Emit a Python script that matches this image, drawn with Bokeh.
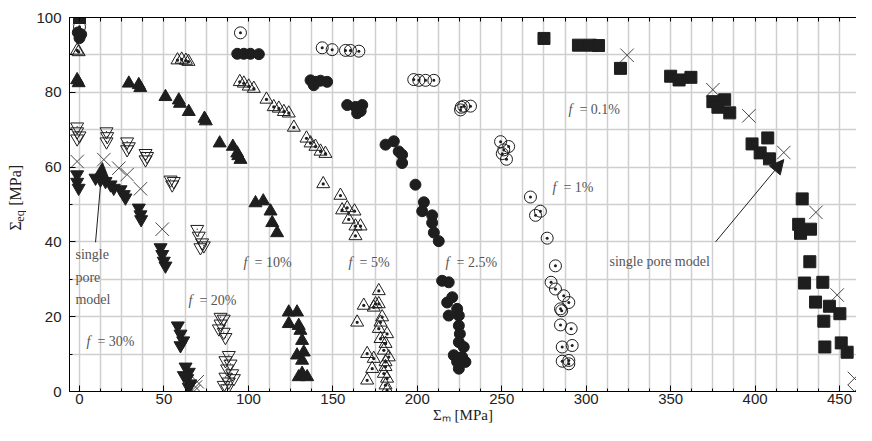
import math
from bokeh.plotting import figure
from bokeh.layouts import row
from bokeh.models import Range1d, FixedTicker, Arrow, NormalHead, LinearAxis
from bokeh.core.properties import value
from bokeh.embed import file_html
from bokeh.resources import INLINE

# ---------------- data (Sigma_m, Sigma_eq) in MPa ----------------
# f = 0.1 %  (filled squares)
sq_x = [0, 275, 295.4, 302.5, 307.3, 320.3, 350, 355, 362, 375, 382, 378, 385,
        398.2, 407.5, 403, 408.5, 427.9, 425.8, 432.8, 426.9, 432.4, 429.3, 440.1,
        435.8, 444, 450.2, 440.7, 441.3, 451, 454.5]
sq_y = [100, 94.4, 92.6, 92.6, 92.5, 86.4, 84.3, 83.3, 84, 77.5, 78, 76, 74.5,
        66.2, 67.8, 63.8, 62.2, 51.5, 44.7, 43.4, 42.3, 34.7, 29, 29.2,
        23.9, 22.8, 20.8, 18.8, 11.9, 13, 10.5]
# f = 1 %  (open circles)
oc_x = [0, 95.3, 143.7, 149.6, 157.5, 160.4, 165.4, 197.9, 200.9, 204.9, 209.8,
        225.6, 227.5, 231.5, 226, 249.3, 254.1, 251.2, 250.3, 252.8, 267, 272.9,
        270, 276.9, 281.8, 279.2, 281.8, 286.7, 289.7, 284.8, 285.5, 284.8, 291.1,
        285.8, 291.7, 285.8, 289.7, 289.7]
oc_y = [97.5, 95.9, 91.9, 91.4, 91.2, 91.2, 91, 83.4, 83.2, 83.2, 83.2,
        75.3, 76.3, 76.3, 76, 66.8, 65.5, 64.6, 63.6, 62.1, 52, 48.2,
        47.1, 41, 33.6, 29.2, 27.4, 25.6, 23.8, 22.1, 21.6, 17.8, 16.8,
        11.9, 12.3, 8.1, 8.3, 7.4]
# f = 2.5 %  (filled circles)
fc_x = [-1, 0, 1, 93.4, 97.3, 101.2, 106.2, 136.8, 139.7, 142.7, 146.6, 138.7,
        158.5, 163.4, 167.4, 164.4, 166.5, 181.2, 186.1, 189, 191, 191, 198.9,
        203.9, 202.9, 208.8, 208.8, 209.8, 212.7, 214.7, 218.6, 220.7, 217.7,
        223.6, 218.6, 224.6, 224.6, 225.2, 224.6, 227.5, 221.6, 228.5, 224.6,
        226.6, 223.6]
fc_y = [96, 94.5, 95.5, 90.3, 90.3, 90.3, 90.2, 83.2, 82.8, 83.1, 82.8, 81.9,
        76.6, 76.1, 76.6, 74.4, 75, 66, 66.9, 64.2, 63.3, 61.1, 55.3,
        50.6, 48.2, 47.1, 45.1, 42.5, 40.2, 29.6, 29.2, 25.2, 23.8,
        22.1, 20.3, 20.3, 17.6, 15.4, 13.2, 11.9, 9.7, 7.9, 6.1,
        9.2, 7.9]
# f = 5 %  (open triangles)
ot_x = [-1.4, -0.5, 58, 60.5, 63, 64.5, 94.9, 97.3, 100.2, 103.2, 110.7, 115,
        118, 121, 123.9, 126.9, 134.4, 136.8, 139.7, 142.7, 145.6, 144.3, 154.5,
        155.5, 158.5, 162.8, 159.4, 163.4, 166.4, 163.4, 177.2, 168.3, 175.3,
        177.2, 174.2, 164.4, 179.2, 178.2, 177.2, 182.1, 178.2, 181.2, 170.3,
        174.2, 180.2, 183.1, 173.3, 181.2, 181.2, 180.2, 170.3, 182.1, 181.2,
        182.1]
ot_y = [91.2, 90.8, 88.6, 88.8, 88.5, 88.2, 82.8, 82.4, 81.6, 81, 78.1, 76.1,
        75.7, 74.8, 74.4, 70.6, 67.7, 66.4, 65.5, 64.2, 63.6, 55.5, 52.4,
        48.5, 49.1, 48.2, 46, 44.2, 44.2, 41.6, 26.9, 23, 23.4,
        23.4, 22.5, 18.5, 19.9, 18.5, 16.8, 15.4, 14.1, 12.8, 10.1,
        8.8, 11, 9.2, 6.1, 7.9, 6.6, 4.8, 3, 3.5, 1.7,
        0.3]
# f = 10 %  (filled triangles)
ft_x = [-1.4, -0.5, 29.2, 35.1, 36, 50.9, 58.8, 59.5, 64.7, 74, 74.8, 83,
        90.8, 93.4, 95.3, 94, 104.2, 108.8, 113.1, 114.1, 117, 123.9, 128.8,
        123.9, 129.8, 130.8, 131.8, 128.8, 132.8, 131.8, 131.8, 134.8, 129.8]
ft_y = [83.3, 82.5, 82.4, 82, 81.2, 78.8, 77.9, 77, 74.8, 73, 72.3, 66.4,
        65.5, 63.7, 62, 63, 50.4, 50.9, 48.2, 45.1, 42.4, 21.2, 21.2,
        18.1, 17.6, 16.3, 13.6, 9.7, 10.5, 8.3, 4.8, 3.9, 3.9]
# f = 20 %  (open inverted triangles)
oi_x = [-1.4, -1.4, 0, -1.4, 16, 16.4, 16, 28.2, 29.2, 28.2, 39.1, 40, 39.1,
        53.9, 55.8, 54.9, 69.7, 70.6, 72.6, 71.6, 73.6, 83.5, 85.4, 83.5, 82.5,
        85.4, 86.4, 88.4, 86.4, 89.4, 87.4, 90.4, 86.4, 88.4, 85.4, 87.4, 91.4]
oi_y = [70.8, 69.5, 68.4, 67.6, 69.5, 68.2, 66.8, 66.8, 65.5, 64.7, 63.7, 62.9, 62,
        56.6, 56.2, 55.3, 43.4, 41.6, 39.8, 38.5, 39, 19.9, 19.4, 18.1, 16.8,
        15.9, 14.5, 9.7, 8.3, 7.4, 6.1, 4.8, 3.9, 2.6, 1.7, 0.8, 3.5]
# f = 30 %  (filled inverted triangles)
fi_x = [-1.4, -1.4, -0.5, 9.5, 12.4, 15.4, 18.4, 20.3, 24.3, 26.2, 27.2, 35.1,
        36.1, 36.5, 48, 49, 49.9, 50.9, 58.2, 59.8, 61.4, 59.8, 62.8, 64.7, 63.8,
        65.7, 64.7, 61.8]
fi_y = [58, 56, 54.4, 57.1, 56.6, 56.2, 55.3, 54.4, 54, 52.7, 51.8, 49.1,
        47.3, 46, 38.5, 36.7, 34.9, 33.6, 17.6, 15.4, 13.6, 12.3, 6.6, 5.2, 3.5,
        2.1, 1.2, 4.3]
# single pore model (crosses)
cx = [0, -1.4, 14.4, 23.3, 28.2, 36.1, 49, 67.7, 69.7, 68.7,
      324.2, 375, 396.3, 417, 436, 448.6, 458.8, 458.8]
cy = [100, 61.5, 62, 59.7, 58, 54.2, 43.4, 0, 2.6, 1.2,
      89.9, 80.7, 73.7, 63.9, 47.9, 25.8, 3.5, 0]

# annotations
ann_x = [289.5, 280, 216.7, 159.3, 97.1, 64.5, 4.1]
ann_y = [75.5, 54.5, 34.6, 34.6, 34.6, 24.2, 13.3]
ann_f = ["f"] * 7
ann_txt = ["= 0.1%", "= 1%", "= 2.5%", "= 5%", "= 10%", "= 20%", "= 30%"]
spm_x = [313.8, -2.4, -2.4, -2.4]
spm_y = [34.7, 36.7, 30.6, 24.5]
spm_txt = ["single pore model", "single", "pore", "model"]

arr_x0 = [9.5, 376.6]
arr_y0 = [39.9, 40.0]
arr_x1 = [13.6, 417.0]
arr_y1 = [61.2, 62.0]

x_major = [0, 50, 100, 150, 200, 250, 300, 350, 400, 450]
x_minor = [i * 12.5 for i in range(0, 38)]
y_major = [0, 20, 40, 60, 80, 100]
y_minor = [0, 10, 20, 30, 40, 50, 60, 70, 80, 90, 100]

x_title = "Σₘ [MPa]"
# y title pieces (rotated), positioned in layout pixels of the left strip
yt_txt = ["Σ", "eq", "[MPa]"]
yt_x = [15, 19, 15]
yt_y = [242, 232, 214]
yt_size = ["16px", "12px", "16px"]

INK = "#1e1e1e"
SERIF = "Liberation Serif"

p = figure(width=830, height=425, output_backend="svg", toolbar_location=None,
           x_range=Range1d(-5.92, 460.04), y_range=Range1d(0, 100),
           min_border_left=43, min_border_right=0, min_border_top=17,
           min_border_bottom=32)
p.outline_line_color = None

for ax, maj, mnr in ((p.xaxis[0], x_major, x_minor), (p.yaxis[0], y_major, y_minor)):
    ax.ticker = FixedTicker(ticks=maj, minor_ticks=mnr)
    ax.major_tick_in = 6
    ax.major_tick_out = 0
    ax.minor_tick_in = 3
    ax.minor_tick_out = 0
    ax.axis_line_color = "black"
    ax.major_tick_line_color = "black"
    ax.minor_tick_line_color = "black"
    ax.major_label_text_font = "Liberation Sans"
    ax.major_label_text_font_size = "15px"
    ax.major_label_text_color = "#222222"
    ax.major_label_text_line_height = 1.0
p.xaxis[0].major_label_standoff = 2
p.yaxis[0].major_label_standoff = 8
p.xaxis[0].axis_label = x_title
p.xaxis[0].axis_label_text_font = SERIF
p.xaxis[0].axis_label_text_font_style = "normal"
p.xaxis[0].axis_label_text_font_size = "15px"
p.xaxis[0].axis_label_text_color = "#222222"
p.xaxis[0].axis_label_standoff = 0
p.xaxis[0].axis_label_text_line_height = 1.0

top = LinearAxis(ticker=FixedTicker(ticks=[], minor_ticks=x_minor),
                 major_tick_in=0, major_tick_out=0, minor_tick_in=4, minor_tick_out=0,
                 major_label_standoff=0, axis_line_color="black",
                 minor_tick_line_color="black")
p.add_layout(top, "above")

p.xgrid.ticker = FixedTicker(ticks=x_minor)
p.ygrid.ticker = FixedTicker(ticks=y_minor)
for g in (p.xgrid[0], p.ygrid[0]):
    g.grid_line_color = "#cfcfcf"
    g.grid_line_width = 1.5

# markers
p.scatter(cx, cy, marker="x", size=19, line_color="#333333", line_width=0.9)
p.scatter(fi_x, fi_y, marker="inverted_triangle", size=13, fill_color=INK, line_color=INK)
p.scatter(oi_x, oi_y, marker="inverted_triangle", size=13, fill_alpha=0, line_color=INK, line_width=1)
p.scatter(oi_x, oi_y, marker="dot", size=5, line_color=INK)
p.scatter(ft_x, ft_y, marker="triangle", size=13, fill_color=INK, line_color=INK)
p.scatter(ot_x, ot_y, marker="triangle_dot", size=13, fill_alpha=0, line_color=INK, line_width=1)
p.scatter(fc_x, fc_y, marker="circle", size=11, fill_color=INK, line_color=INK)
p.scatter(oc_x, oc_y, marker="circle_dot", size=12, fill_alpha=0, line_color=INK, line_width=1)
p.scatter(sq_x, sq_y, marker="square", size=12, fill_color=INK, line_color=INK)

# in-plot annotations
p.text(ann_x, ann_y, text=ann_f, text_font=value(SERIF), text_font_style="italic",
       text_font_size="14px", text_color="#555555", text_baseline="middle")
p.text(ann_x, ann_y, text=ann_txt, x_offset=11, text_font=value(SERIF),
       text_font_size="14px", text_color="#555555", text_baseline="middle")
p.text(spm_x, spm_y, text=spm_txt, text_font=value(SERIF),
       text_font_size="14px", text_color="#555555", text_baseline="middle")

for a, b, c, d in zip(arr_x0, arr_y0, arr_x1, arr_y1):
    p.add_layout(Arrow(end=NormalHead(size=14, fill_color=INK, line_color=INK),
                       x_start=a, y_start=b, x_end=c, y_end=d,
                       line_color=INK, line_width=1))

# left strip holds the rotated y title (layout x 0..26, y 0..425)
py = figure(width=26, height=425, output_backend="svg", toolbar_location=None,
            x_range=Range1d(0, 26), y_range=Range1d(425, 0),
            x_axis_location=None, y_axis_location=None,
            min_border_left=0, min_border_right=0, min_border_top=0,
            min_border_bottom=0)
py.grid.visible = False
py.outline_line_color = None
for t, x, y, s in zip(yt_txt, yt_x, yt_y, yt_size):
    py.text([x], [y], text=[t], angle=math.pi / 2, text_font=value(SERIF),
            text_font_size=s, text_color="#222222", text_align="left",
            text_baseline="middle")

layout = row(py, p)
open("out.html", "w").write(file_html(layout, INLINE))
